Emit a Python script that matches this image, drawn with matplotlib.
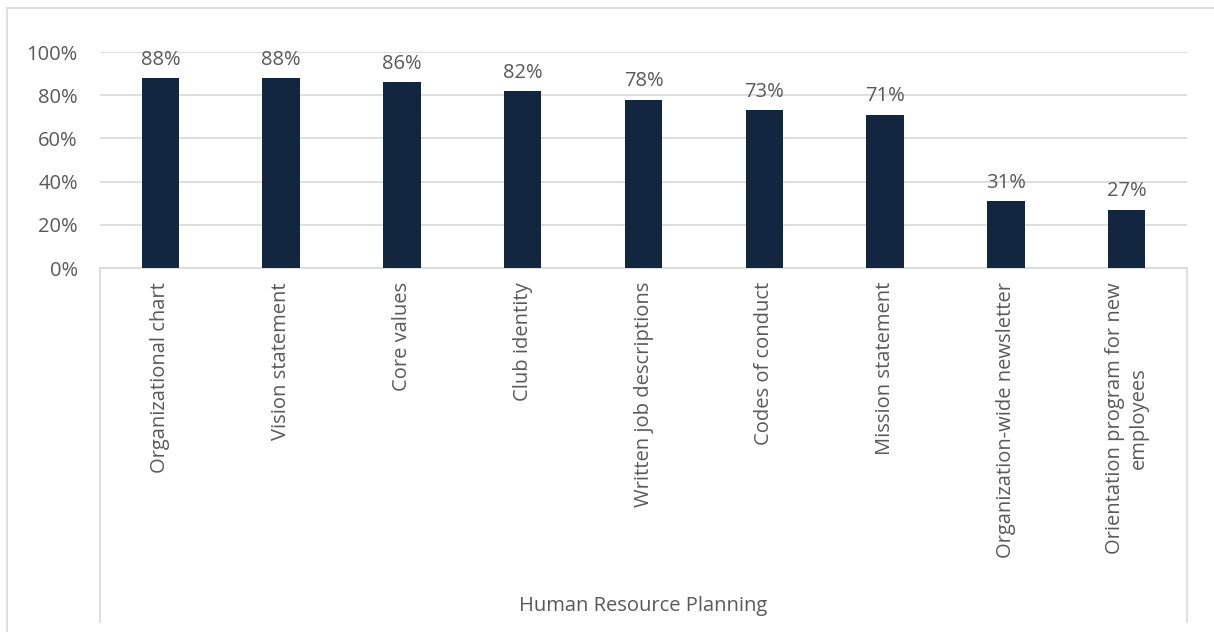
import matplotlib.pyplot as plt
from matplotlib.lines import Line2D
from matplotlib.ticker import FuncFormatter

categories = [
    "Organizational chart",
    "Vision statement",
    "Core values",
    "Club identity",
    "Written job descriptions",
    "Codes of conduct",
    "Mission statement",
    "Organization-wide newsletter",
    "Orientation program for new\nemployees",
]
shares = [0.88, 0.88, 0.86, 0.82, 0.78, 0.73, 0.71, 0.31, 0.27]
group_name = "Human Resource Planning"
y_ticks = [0, 0.2, 0.4, 0.6, 0.8, 1.0]

BAR = "#12263f"
TEXT = "#595959"
LINE = "#d9d9d9"
FS = 14.5

plt.rcParams["font.family"] = ["Open Sans", "DejaVu Sans"]
plt.rcParams["font.size"] = FS

W, H = 1214, 632
fig = plt.figure(figsize=(W / 100, H / 100), dpi=100)

# plot area in pixel terms
left, right, top, bottom = 100, 1187, 52, 268
ax = fig.add_axes([left / W, 1 - bottom / H, (right - left) / W, (bottom - top) / H])

x = list(range(len(categories)))
ax.bar(x, shares, width=0.31, color=BAR, zorder=3)
for xi, v in zip(x, shares):
    ax.annotate(f"{v:.0%}", (xi, v), xytext=(0, 6), textcoords="offset points",
                ha="center", va="bottom", color=TEXT, fontsize=FS, annotation_clip=False)

ax.set_xlim(-0.5, len(categories) - 0.5)
ax.set_ylim(0, 1)
ax.set_yticks(y_ticks)
ax.yaxis.set_major_formatter(FuncFormatter(lambda v, _: f"{v:.0%}"))
ax.set_xticks(x)
ax.set_xticklabels(categories, rotation=90, va="top", ha="center", multialignment="center",
                   linespacing=1.25)
ax.tick_params(axis="x", length=0, pad=10, colors=TEXT)
ax.tick_params(axis="y", length=0, pad=16, colors=TEXT)
ax.grid(axis="y", color=LINE, linewidth=1.2, zorder=0)
for s in ["top", "left", "right"]:
    ax.spines[s].set_visible(False)
ax.spines["bottom"].set_color(LINE)
ax.spines["bottom"].set_linewidth(1.2)

# category group box and outer frame
def fig_line(xs, ys):
    fig.add_artist(Line2D([v / W for v in xs], [1 - v / H for v in ys],
                          color=LINE, linewidth=1.2))

fig_line([left, left], [bottom, 622])
fig_line([right, right], [bottom, 622])
fig_line([7, 7], [8, H + 2])
fig_line([7, W + 2], [8, 8])

fig.text((left + right) / 2 / W, 1 - 606 / H, group_name, ha="center", va="center",
         color=TEXT, fontsize=FS)

fig.savefig("out.png", dpi=100, facecolor="white")
